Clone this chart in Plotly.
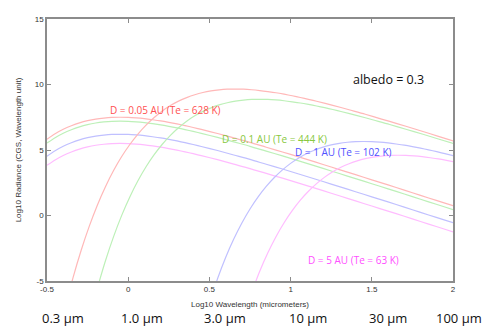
import plotly.graph_objects as go

# ---- data (log10 wavelength in micrometers, log10 radiance) ----
refl_logwl = [-0.5, -0.45, -0.4, -0.35, -0.3, -0.25, -0.2, -0.15, -0.1, -0.05, 0, 0.05, 0.1, 0.15,
              0.2, 0.25, 0.3, 0.35, 0.4, 0.45, 0.55, 0.65, 0.75, 0.85, 0.95, 1.05, 1.15, 1.25,
              1.35, 1.45, 1.55, 1.65, 1.75, 1.85, 1.95, 2.0]
refl_d005 = [5.83, 6.24, 6.58, 6.85, 7.07, 7.24, 7.36, 7.44, 7.49, 7.50, 7.49, 7.45, 7.39, 7.31,
             7.22, 7.11, 6.99, 6.86, 6.72, 6.57, 6.26, 5.92, 5.58, 5.21, 4.85, 4.47, 4.09, 3.70,
             3.31, 2.92, 2.53, 2.14, 1.74, 1.34, 0.95, 0.75]
refl_d01 = [5.53, 5.94, 6.28, 6.55, 6.77, 6.94, 7.06, 7.14, 7.19, 7.20, 7.19, 7.15, 7.09, 7.01,
            6.92, 6.81, 6.69, 6.56, 6.42, 6.27, 5.96, 5.62, 5.28, 4.91, 4.55, 4.17, 3.79, 3.40,
            3.01, 2.62, 2.23, 1.84, 1.44, 1.04, 0.65, 0.45]
refl_d1 = [4.53, 4.94, 5.28, 5.55, 5.77, 5.94, 6.06, 6.14, 6.19, 6.20, 6.19, 6.15, 6.09, 6.01,
           5.92, 5.81, 5.69, 5.56, 5.42, 5.27, 4.96, 4.62, 4.28, 3.91, 3.55, 3.17, 2.79, 2.40,
           2.01, 1.62, 1.23, 0.84, 0.44, 0.04, -0.35, -0.55]
refl_d5 = [3.83, 4.24, 4.58, 4.85, 5.07, 5.24, 5.36, 5.44, 5.49, 5.50, 5.49, 5.45, 5.39, 5.31,
           5.22, 5.11, 4.99, 4.86, 4.72, 4.57, 4.26, 3.92, 3.58, 3.21, 2.85, 2.47, 2.09, 1.70,
           1.31, 0.92, 0.53, 0.14, -0.26, -0.66, -1.05, -1.25]

th628_logwl = [-0.39, -0.34, -0.29, -0.24, -0.19, -0.14, -0.09, -0.04, 0.01, 0.06, 0.11, 0.16,
               0.21, 0.26, 0.31, 0.36, 0.41, 0.46, 0.51, 0.56, 0.61, 0.66, 0.71, 0.76, 0.81,
               0.86, 0.91, 0.96, 1.01, 1.06, 1.11, 1.16, 1.26, 1.36, 1.46, 1.56, 1.66, 1.76,
               1.86, 1.96, 2.06]
th628 = [-7.14, -4.76, -2.67, -0.83, 0.79, 2.20, 3.43, 4.50, 5.42, 6.22, 6.90, 7.48, 7.98, 8.39,
         8.73, 9.00, 9.22, 9.39, 9.51, 9.59, 9.64, 9.65, 9.64, 9.60, 9.54, 9.46, 9.37, 9.26,
         9.14, 9.01, 8.87, 8.72, 8.41, 8.07, 7.73, 7.36, 7.00, 6.62, 6.24, 5.85, 5.46]

th444_logwl = [-0.19, -0.14, -0.09, -0.04, 0.01, 0.06, 0.11, 0.16, 0.21, 0.26, 0.31, 0.36, 0.41,
               0.46, 0.51, 0.56, 0.61, 0.66, 0.71, 0.76, 0.81, 0.86, 0.91, 0.96, 1.01, 1.06,
               1.11, 1.16, 1.21, 1.26, 1.31, 1.41, 1.51, 1.61, 1.71, 1.81, 1.91, 2.01]
th444 = [-5.54, -3.45, -1.61, 0.01, 1.42, 2.65, 3.72, 4.64, 5.44, 6.12, 6.70, 7.20, 7.61, 7.95,
         8.22, 8.44, 8.61, 8.73, 8.81, 8.86, 8.87, 8.86, 8.82, 8.76, 8.68, 8.59, 8.48, 8.36,
         8.23, 8.09, 7.94, 7.63, 7.29, 6.95, 6.58, 6.22, 5.84, 5.46]

th102_logwl = [0.50, 0.55, 0.60, 0.65, 0.70, 0.75, 0.80, 0.85, 0.90, 0.95, 1.00, 1.05, 1.10, 1.15,
               1.20, 1.25, 1.30, 1.35, 1.40, 1.45, 1.50, 1.55, 1.60, 1.65, 1.70, 1.75, 1.80,
               1.85, 1.90, 1.95, 2.05]
th102 = [-6.67, -4.83, -3.21, -1.80, -0.57, 0.50, 1.42, 2.22, 2.90, 3.48, 3.98, 4.39, 4.73, 5.00,
         5.22, 5.39, 5.51, 5.59, 5.64, 5.65, 5.64, 5.60, 5.54, 5.46, 5.37, 5.26, 5.14, 5.01,
         4.87, 4.72, 4.41]

th63_logwl = [0.76, 0.81, 0.86, 0.91, 0.96, 1.01, 1.06, 1.11, 1.16, 1.21, 1.26, 1.31, 1.36, 1.41,
              1.46, 1.51, 1.56, 1.61, 1.66, 1.71, 1.76, 1.81, 1.86, 1.91, 1.96, 2.01]
th63 = [-5.88, -4.26, -2.85, -1.62, -0.55, 0.37, 1.17, 1.85, 2.43, 2.93, 3.34, 3.68, 3.95, 4.17,
        4.34, 4.46, 4.54, 4.59, 4.60, 4.59, 4.55, 4.49, 4.41, 4.32, 4.21, 4.09]

x_tickvals = [-0.5, 0, 0.5, 1, 1.5, 2]
x_ticktext = ["-0.5", "0", "0.5", "1", "1.5", "2"]
y_tickvals = [-5, 0, 5, 10, 15]
y_ticktext = ["-5", "0", "5", "10", "15"]

labels = ["D = 0.05 AU (Te = 628 K)", "D = 0.1 AU (Te = 444 K)",
          "D = 1 AU (Te = 102 K)", "D = 5 AU (Te = 63 K)"]
wl_labels = ["0.3 \u00b5m", "1.0 \u00b5m", "3.0 \u00b5m", "10 \u00b5m", "30 \u00b5m", "100 \u00b5m"]

line_cols = ["#ffb8b8", "#bdf0b8", "#c0c0ff", "#ffbcff"]
text_cols = ["#ff5050", "#88c840", "#5050ff", "#ff50ff"]

fig = go.Figure()
curves = [
    (refl_logwl, refl_d005, 0), (refl_logwl, refl_d01, 1), (refl_logwl, refl_d1, 2), (refl_logwl, refl_d5, 3),
    (th628_logwl, th628, 0), (th444_logwl, th444, 1), (th102_logwl, th102, 2), (th63_logwl, th63, 3),
]
for xs, ys, ci in curves:
    fig.add_trace(go.Scatter(x=xs, y=ys, mode="lines",
                             line=dict(color=line_cols[ci], width=1.2, shape="spline", smoothing=0.8),
                             showlegend=False, hoverinfo="skip"))

label_pos = [(0.227, 8.08), (0.898, 5.83), (1.323, 4.81), (1.387, -3.37)]
for txt, (lx, ly), col in zip(labels, label_pos, text_cols):
    fig.add_annotation(x=lx, y=ly, xref="x", yref="y", text=txt, showarrow=False,
                       xanchor="center", yanchor="middle",
                       font=dict(family="Open Sans", size=10, color=col))
fig.add_annotation(x=1.60, y=10.36, xref="x", yref="y", text="albedo = 0.3", showarrow=False,
                   xanchor="center", yanchor="middle",
                   font=dict(family="Open Sans", size=12.5, color="#111111"))

wl_pos = [0.039, 0.234, 0.438, 0.643, 0.840, 1.016]
for txt, px in zip(wl_labels, wl_pos):
    fig.add_annotation(x=px, y=-0.142, xref="paper", yref="paper", text=txt, showarrow=False,
                       xanchor="center", yanchor="middle",
                       font=dict(family="Open Sans", size=13, color="#111111"))

axis_common = dict(showgrid=False, zeroline=False, showline=True, linecolor="#8c8c8c", linewidth=1.5,
                   mirror="ticks", ticks="inside", ticklen=4, tickcolor="#8c8c8c", tickwidth=1,
                   tickfont=dict(family="Liberation Sans", size=8, color="#333333"))

# the page body adds an 8px offset, so the figure is sized to fit the remaining window
fig.update_layout(
    width=484, height=318,
    margin=dict(l=39, r=39, t=7, b=45),
    paper_bgcolor="white", plot_bgcolor="white",
    xaxis=dict(range=[-0.5, 2], tickvals=x_tickvals, ticktext=x_ticktext,
               title=dict(text="Log10 Wavelength (micrometers)", standoff=8,
                          font=dict(family="Liberation Sans", size=8, color="#333333")),
               **axis_common),
    yaxis=dict(range=[-5, 15], tickvals=y_tickvals, ticktext=y_ticktext,
               title=dict(text="Log10 Radiance (CGS, Wavelength unit)", standoff=12,
                          font=dict(family="Liberation Sans", size=8, color="#333333")),
               **axis_common),
)

fig.write_html("out.html")
